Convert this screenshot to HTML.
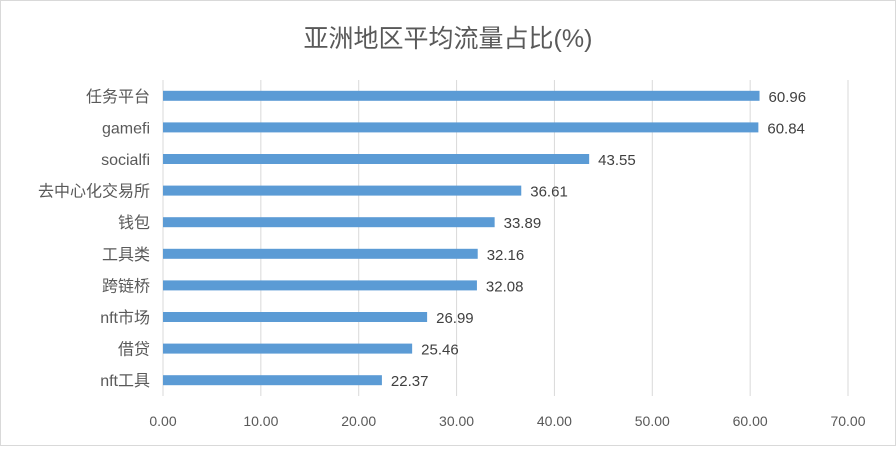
<!DOCTYPE html>
<html><head><meta charset="utf-8"><style>
html,body{margin:0;padding:0;background:#fff;}
svg text{font-family:"Liberation Sans","Noto Sans CJK SC",sans-serif;}
</style></head><body>
<svg id="chart" width="896" height="446" xmlns="http://www.w3.org/2000/svg">
<rect x="0.5" y="0.5" width="895" height="445" fill="#fff" stroke="#d9d9d9"/>
<text x="448" y="47" text-anchor="middle" font-size="25" fill="#595959">亚洲地区平均流量占比(%)</text>
<g id="grid"></g><g id="bars"></g><g id="labels"></g>
</svg>
<script>
const categories=["任务平台","gamefi","socialfi","去中心化交易所","钱包","工具类","跨链桥","nft市场","借贷","nft工具"];
const values=[60.96,60.84,43.55,36.61,33.89,32.16,32.08,26.99,25.46,22.37];
const ticks=[0,10,20,30,40,50,60,70];
const plotX0=163,plotX1=848,plotTop=80,plotBottom=396,xMaxVal=70;
const xs=v=>plotX0+(v/xMaxVal)*(plotX1-plotX0);
const band=(plotBottom-plotTop)/categories.length;
const ys=i=>plotTop+band*(i+0.5);
const NS="http://www.w3.org/2000/svg";
const gridG=document.getElementById('grid'),barsG=document.getElementById('bars'),labelsG=document.getElementById('labels');
function mk(tag,attrs,parent,txt){const e=document.createElementNS(NS,tag);for(const k in attrs)e.setAttribute(k,attrs[k]);if(txt!==undefined)e.textContent=txt;parent.appendChild(e);return e;}
ticks.forEach(t=>{
  const l=mk('line',{x1:xs(t),x2:xs(t),y1:plotTop,y2:plotBottom,stroke:'#d9d9d9','stroke-width':1},gridG);
  
  
  const tx=mk('text',{x:xs(t),y:426,'text-anchor':'middle','font-size':14,fill:'#595959'},labelsG,t.toFixed(2));
  
  
});
categories.forEach((c,i)=>{
  const y=ys(i);
  const r=mk('rect',{x:xs(0),y:y-5,width:xs(values[i])-xs(0),height:10,fill:'#5b9bd5'},barsG);
  
  
  const cl=mk('text',{x:150,y:y+6,'text-anchor':'end','font-size':16,fill:'#595959'},labelsG,c);
  
  
  const vl=mk('text',{x:xs(values[i])+9,y:y+6,'font-size':15,fill:'#404040'},labelsG,values[i].toFixed(2));
  
  
});
</script>
</body></html>
